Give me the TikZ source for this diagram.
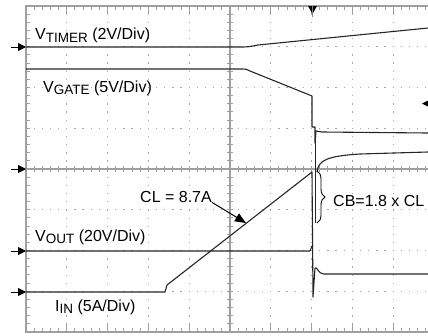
\documentclass[tikz,border=0pt]{standalone}
\usepackage{fontspec}
\setmainfont{Liberation Sans}
\usetikzlibrary{arrows.meta,decorations.pathreplacing}
\newcommand\subtxt[1]{\raisebox{-2.5pt}{\fontsize{13.5}{14}\selectfont #1}}
\tikzset{
  frame/.style={draw=gray!75, line width=1.3pt},
  gridline/.style={draw=gray!70, line width=1.3pt, dash pattern=on 1.3pt off 6.86pt},
  tick/.style={draw=gray!75, line width=1pt},
  trace/.style={draw=black!85, line width=1.1pt, line join=round},
  lbl/.style={anchor=base west, inner sep=0pt, font=\fontsize{16}{19}\selectfont},
  marker/.style={draw=black, line width=1pt, -{Triangle[length=8pt,width=8pt]}},
}
\begin{document}
\begin{tikzpicture}[x=1pt,y=-1pt]
\useasboundingbox (0,0) rectangle (428,335);
\clip (0,0) rectangle (428,335);
% dotted grid
\foreach \i in {1,2,3,4,6,7,8,9}
  \draw[gridline] ({26+40.8*\i},5.35) -- ({26+40.8*\i},332);
\foreach \j in {1,2,3,5,6,7}
  \draw[gridline] (25.35,{6+40.75*\j}) -- (434,{6+40.75*\j});
% centre axes with ticks
\draw[frame] (230,6) -- (230,332);
\draw[frame] (26,169) -- (434,169);
\foreach \k in {1,...,49}
  \draw[tick] ({26+8.16*\k},166) -- ({26+8.16*\k},172);
\foreach \k in {1,...,39}
  \draw[tick] (227,{6+8.15*\k}) -- (233,{6+8.15*\k});
% frame and edge ticks
\draw[frame] (434,6) -- (26,6) -- (26,332) -- (434,332);
\foreach \k in {1,...,50}{
  \draw[tick] ({26+8.16*\k},6) -- ({26+8.16*\k},10);
  \draw[tick] ({26+8.16*\k},332) -- ({26+8.16*\k},328);
}
\foreach \i in {1,...,9}{
  \draw[tick] ({26+40.8*\i},6) -- ({26+40.8*\i},14);
  \draw[tick] ({26+40.8*\i},332) -- ({26+40.8*\i},323);
}
\foreach \k in {1,...,39}
  \draw[tick] (26,{6+8.15*\k}) -- (30,{6+8.15*\k});
% trigger and level markers
\fill (308,6) -- (317,6) -- (312.5,14) -- cycle;
\draw[gray, line width=1.5pt] (312.5,6) -- (312.5,17);
\fill (428,100.5) -- (422,103.5) -- (428,106.5) -- cycle;
\foreach \y in {47,169,251,292}
  \draw[marker] (11,\y) -- (26,\y);
% traces
\draw[trace] (26,47) -- (238,47) .. controls (248,47) .. (258,45) -- (428,28);
\draw[trace] (26,69) -- (240,69) .. controls (246,69) .. (250,71) -- (312,96)
  -- (312,127) -- (315,127) -- (315,143) -- (316,131) -- (322,132) -- (428,133);
\draw[trace, line width=1.6pt] (315.5,131) -- (315.5,223);
\draw[trace] (317,172) .. controls (318,160) and (328,156) .. (360,154) -- (428,152);
\draw[trace] (26,251) -- (310,251) -- (312,246) -- (313,246);
\draw[trace] (26,292) -- (165,292) -- (167,285) -- (312,172) -- (313,297)
  -- (315,268) .. controls (317,266) and (318,274) .. (324,274) -- (428,274);
% labels
\node[lbl] (vtimer) at (35,39.5) {V\subtxt{TIMER} (2V/Div)};
\node[lbl] (vgate) at (43,92) {V\subtxt{GATE} (5V/Div)};
\node[lbl] (vout) at (35,241) {V\subtxt{OUT} (20V/Div)};
\node[lbl] (iin) at (55,311) {I\subtxt{IN} (5A/Div)};
\node[lbl] (cl) at (140,202) {CL = 8.7A};
\node[lbl] (cb) at (333,206) {CB=1.8 x CL};
\coordinate (ramp) at (246,223);
\draw[line width=1pt, -{Triangle[length=11pt,width=9pt]}] (cl.south east) -- (ramp);
\draw[line width=0.9pt, decorate, decoration={brace, amplitude=8pt}] (317,171) -- (317,223);
\end{tikzpicture}
\end{document}
